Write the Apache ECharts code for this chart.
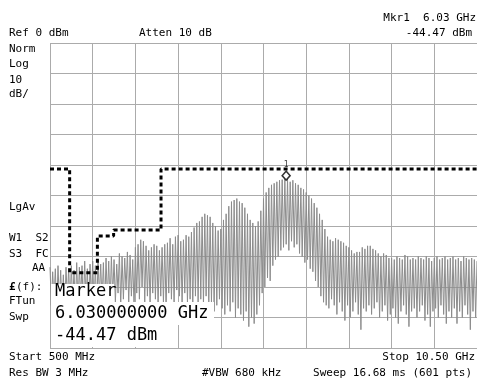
<!DOCTYPE html>
<html>
<head>
<meta charset="utf-8">
<script src="https://cdn.jsdelivr.net/npm/echarts@6/dist/echarts.min.js"></script>
<style>
  html, body { margin: 0; padding: 0; background: #fff; }
  #chart { width: 477px; height: 384px; }
</style>
</head>
<body>
<div id="chart"></div>
<script>
// sweep: 0.5 .. 10.5 GHz, alternating peak / trough points
const startGHz = 0.5;
const stopGHz = 10.5;
const sweepStep = 0.03125;

// trace peaks (dBm), every 0.0625 GHz from 0.5 GHz
const peakLevels = [
  -73.5, -75, -74, -73, -74.5, -76, -73.5, -74,
  -73, -74.5, -72, -73.5, -73, -71.5, -74, -72.5, -71.5, -73, -71, -72.5, -72, -70.5, -71.5, -70,
  -71, -72.5, -69, -70, -70.5, -68.5, -69.5, -71, -67, -66, -64.5, -65, -66.5, -68, -67, -66,
  -66.5, -68, -67, -66, -65.5, -64, -66, -63.5, -63, -65, -64.5, -63, -63.5, -62, -60.5, -59,
  -58.5, -57, -56, -56.5, -57, -59, -60, -61.5, -61, -58, -56, -53.5, -52, -51.5, -51, -52,
  -52.5, -54, -56, -58, -59, -60, -58.5, -55, -51, -49, -47.5, -46.5, -46, -45.5, -45, -44.8,
  -44.5, -44.6, -45.5, -45, -46, -46.5, -47.5, -48, -49, -50, -51, -52.5, -54, -56, -58, -61,
  -63.5, -64.5, -65, -64, -64.5, -65, -65.5, -66.5, -67, -68, -69, -68.5, -68.5, -67, -67.5, -66.5,
  -66.5, -67.5, -68, -69, -70, -69, -69.5, -70.5, -70.5, -71, -70, -70.5, -71, -69.5, -70, -71,
  -70.5, -71, -70, -70.5, -71, -70, -70.5, -71.5, -70.5, -70, -71, -70.5, -70, -71, -70.5, -70,
  -71, -70.5, -71.5, -70, -70.5, -71, -70.5, -71, -71.5
];

// trace troughs (dBm), every 0.0625 GHz from 0.53125 GHz
const troughLevels = [
  -86, -84, -88, -85, -87, -89, -84, -86,
  -85, -88, -86, -83, -87, -85, -89, -84, -86, -88, -83, -85, -87, -84, -86, -83,
  -85, -82, -86, -84, -81, -85, -83, -87, -82, -84, -80, -85, -83, -86, -82, -84,
  -86, -83, -85, -88, -82, -84, -86, -81, -83, -86, -82, -85, -84, -87, -83, -85,
  -84, -86, -83, -87, -85, -88, -86, -84, -87, -89, -86, -88, -85, -90, -87, -89,
  -91, -88, -93, -90, -92, -89, -86, -82, -80, -77, -78, -73, -71, -70, -68, -67,
  -66, -68, -65, -67, -66, -69, -70, -72, -71, -74, -75, -78, -80, -83, -85, -86,
  -87, -84, -86, -89, -85, -88, -91, -86, -90, -88, -85, -89, -94, -87, -88, -86,
  -89, -87, -85, -90, -88, -86, -91, -89, -87, -90, -92, -88, -86, -89, -93, -88,
  -87, -90, -88, -86, -91, -89, -93, -88, -87, -90, -86, -89, -92, -88, -90, -87,
  -92, -88, -90, -86, -89, -94, -88, -90
];

// limit line (FCC mask)
const limitFreqs = [0.5, 0.96, 0.96, 1.61, 1.61, 1.99, 1.99, 3.1, 3.1, 10.5];
const limitLevels = [-41.3, -41.3, -75.3, -75.3, -63.3, -63.3, -61.3, -61.3, -41.3, -41.3];

const markerFreq = 6.03;
const markerLevel = -44.47;

const traceData = [];
for (let j = 0; j < peakLevels.length + troughLevels.length; j++) {
  const f = startGHz + j * sweepStep;
  const v = j % 2 === 0 ? peakLevels[j / 2] : troughLevels[(j - 1) / 2];
  traceData.push([f, v]);
}
const limitData = limitFreqs.map((f, i) => [f, limitLevels[i]]);

const mono = 'DejaVu Sans Mono';
const label = (text, x, y, opts = {}) => ({
  type: 'text',
  z: 110,
  style: {
    text: text,
    x: x,
    y: y,
    fontFamily: mono,
    fontSize: opts.size || 11,
    fontWeight: opts.bold ? 'bold' : 'normal',
    fill: '#000',
    textAlign: opts.align || 'left',
    textVerticalAlign: 'middle',
  },
});
const whiteBox = (x, y, w, h) => ({
  type: 'rect',
  z: 105,
  shape: { x: x, y: y, width: w, height: h },
  style: { fill: '#fff' },
});

const gridLine = { show: true, lineStyle: { color: '#ababab', width: 1 } };

const option = {
  animation: false,
  backgroundColor: '#fff',
  grid: { left: 50, top: 43, width: 427, height: 305 },
  xAxis: [
    {
      type: 'value', min: 0, max: 10, interval: 1,
      axisLine: { show: false }, axisTick: { show: false }, axisLabel: { show: false },
      splitLine: gridLine,
    },
    {
      type: 'value', min: startGHz, max: stopGHz,
      axisLine: { show: false }, axisTick: { show: false }, axisLabel: { show: false },
      splitLine: { show: false },
    },
  ],
  yAxis: {
    type: 'value', min: -100, max: 0, interval: 10,
    axisLine: { show: false }, axisTick: { show: false }, axisLabel: { show: false },
    splitLine: gridLine,
  },
  series: [
    {
      type: 'line',
      xAxisIndex: 1,
      data: traceData,
      showSymbol: false,
      lineStyle: { color: '#8c8c8c', width: 1 },
    },
    {
      type: 'line',
      xAxisIndex: 1,
      data: limitData,
      showSymbol: false,
      lineStyle: { color: '#000', width: 3, type: [4, 3] },
      z: 3,
    },
    {
      type: 'scatter',
      xAxisIndex: 1,
      data: [[markerFreq, markerLevel]],
      symbol: 'diamond',
      symbolSize: [8, 9],
      symbolOffset: [0, -3],
      itemStyle: { color: '#fff', borderColor: '#000', borderWidth: 1.5 },
      label: { show: true, formatter: '1', position: 'top', distance: 1, fontSize: 8, fontFamily: mono, color: '#000' },
      z: 4,
    },
  ],
  graphic: [
    label('Mkr1  6.03 GHz', 476, 18, { align: 'right' }),
    label('Ref 0 dBm', 9, 33),
    label('Atten 10 dB', 139, 33),
    label('-44.47 dBm', 472, 33, { align: 'right' }),
    label('Norm', 9, 49),
    label('Log', 9, 64),
    label('10', 9, 80),
    label('dB/', 9, 94),
    label('LgAv', 9, 207),
    label('W1  S2', 9, 238),
    label('S3  FC', 9, 254),
    label('AA', 32, 268),
    label('£', 9, 287, { bold: true }),
    label('(f):', 16, 287),
    label('FTun', 9, 301),
    label('Swp', 9, 317),
    whiteBox(51, 284, 63, 18),
    whiteBox(51, 302, 163, 23),
    whiteBox(51, 325, 115, 22),
    label('Marker', 55, 292, { size: 17 }),
    label('6.030000000 GHz', 55, 314, { size: 17 }),
    label('-44.47 dBm', 55, 336, { size: 17 }),
    label('Start 500 MHz', 9, 357),
    label('Stop 10.50 GHz', 475, 357, { align: 'right' }),
    label('Res BW 3 MHz', 9, 373),
    label('#VBW 680 kHz', 202, 373),
    label('Sweep 16.68 ms (601 pts)', 472, 373, { align: 'right' }),
  ],
};

const chart = echarts.init(document.getElementById('chart'));
chart.setOption(option);
</script>
</body>
</html>
